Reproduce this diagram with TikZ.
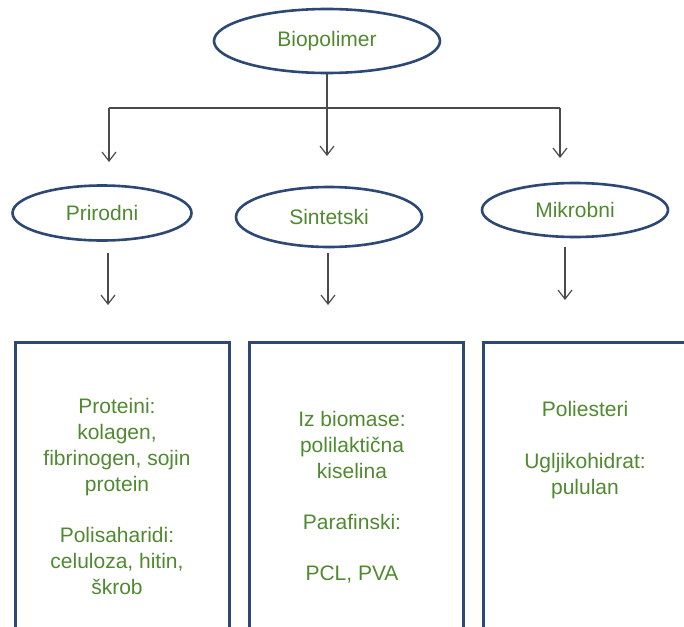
\documentclass[tikz,border=0pt]{standalone}
\usepackage{fontspec}
\setmainfont{Liberation Sans}
\usetikzlibrary{shapes.geometric,arrows.meta}
\definecolor{navy}{RGB}{46,72,118}
\definecolor{txtgreen}{RGB}{80,138,48}
\definecolor{arrgray}{RGB}{75,75,75}
\tikzset{
  oval/.style={ellipse,draw=navy,line width=2.6pt,inner sep=0pt,
    font=\fontsize{21}{26}\selectfont,text=txtgreen},
  panel/.style={rectangle,draw=navy,line width=3pt,inner sep=0pt,anchor=north west},
  lbl/.style={font=\fontsize{21}{26}\selectfont,text=txtgreen,anchor=base,inner sep=0pt},
  conn/.style={draw=arrgray,line width=1.2pt},
  arrow/.style={conn,-{Straight Barb[length=9pt,width=14pt,line width=1.2pt]}}
}
\begin{document}
\begin{tikzpicture}[x=1pt,y=-1pt]
\useasboundingbox (0,0) rectangle (684,626);
\clip (0,0) rectangle (684,626);
\fill[white] (0,0) rectangle (684,626);
% ellipses
\node[oval,minimum width=226pt,minimum height=64pt] (bio) at (327,41) {Biopolimer};
\node[oval,minimum width=179pt,minimum height=55pt] (pri) at (102,213) {Prirodni};
\node[oval,minimum width=186pt,minimum height=60pt] (sin) at (329,217) {Sintetski};
\node[oval,minimum width=186pt,minimum height=54pt] (mik) at (575,210) {Mikrobni};
% first-level connectors
\coordinate (hl) at (109,108);
\coordinate (hr) at (560,108);
\coordinate (t1) at (109,162);
\coordinate (t2) at (327,156);
\coordinate (t3) at (560,158);
\draw[conn] (hl) -- (hr);
\draw[arrow] (bio.south) -- (t2);
\draw[arrow] (hl) -- (t1);
\draw[arrow] (hr) -- (t3);
% second-level arrows
\coordinate (s1) at (108,253);
\coordinate (e1) at (108,305);
\coordinate (s2) at (328,253);
\coordinate (e2) at (328,305);
\coordinate (s3) at (565,247);
\coordinate (e3) at (565,300);
\draw[arrow] (s1) -- (e1);
\draw[arrow] (s2) -- (e2);
\draw[arrow] (s3) -- (e3);
% panels
\node[panel,minimum width=214pt,minimum height=320pt] (b1) at (14,341) {};
\node[panel,minimum width=214pt,minimum height=320pt] (b2) at (248,341) {};
\node[panel,minimum width=214pt,minimum height=320pt] (b3) at (482,341) {};
% left panel text
\node[lbl] (l1) at (117,413) {Proteini:};
\node[lbl] (l2) at (117,439) {kolagen,};
\node[lbl] (l3) at (117,465) {fibrinogen, sojin};
\node[lbl] (l4) at (117,491) {protein};
\node[lbl] (l5) at (117,542) {Polisaharidi:};
\node[lbl] (l6) at (117,568) {celuloza, hitin,};
\node[lbl] (l7) at (117,594) {škrob};
% middle panel text
\node[lbl] (m1) at (352,426) {Iz biomase:};
\node[lbl] (m2) at (352,452) {polilaktična};
\node[lbl] (m3) at (352,478) {kiselina};
\node[lbl] (m4) at (352,529) {Parafinski:};
\node[lbl] (m5) at (352,580) {PCL, PVA};
% right panel text
\node[lbl] (r1) at (585,416) {Poliesteri};
\node[lbl] (r2) at (585,468) {Ugljikohidrat:};
\node[lbl] (r3) at (585,494) {pululan};
\end{tikzpicture}
\end{document}
